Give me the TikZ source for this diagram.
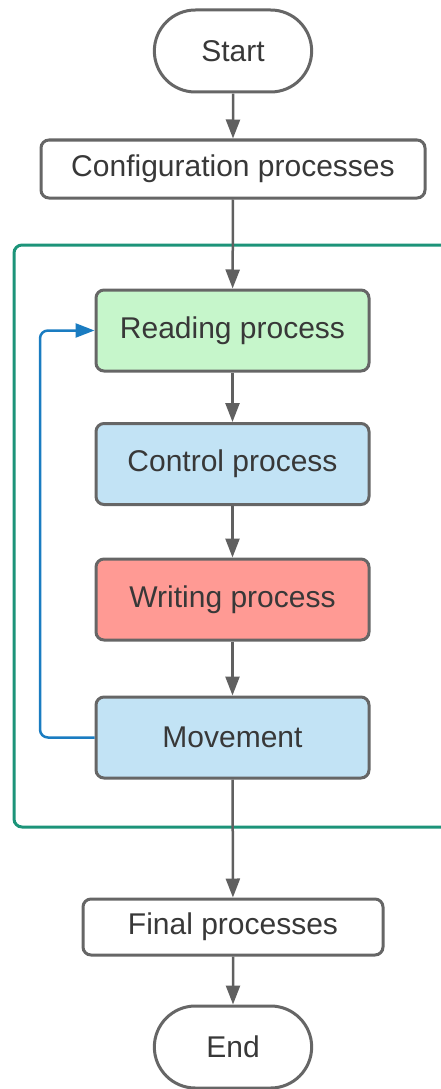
\documentclass[tikz,border=0pt]{standalone}
\usepackage{fontspec}
\setmainfont{Liberation Sans}
\usetikzlibrary{arrows.meta,shapes.misc}
\definecolor{edgegray}{HTML}{606060}
\definecolor{boxgray}{HTML}{666666}
\definecolor{txt}{HTML}{383838}
\definecolor{readfill}{HTML}{C6F6CB}
\definecolor{ctrlfill}{HTML}{C2E3F5}
\definecolor{writefill}{HTML}{FF9A94}
\definecolor{frameteal}{HTML}{1C9479}
\definecolor{loopblue}{HTML}{1A7CC1}
\tikzset{
  every node/.style={font=\fontsize{30}{36}\selectfont, text=txt},
  procbox/.style={draw=boxgray, line width=3pt, rounded corners=8pt, minimum height=58pt, fill=white},
  stepbox/.style={draw=boxgray, line width=3pt, rounded corners=8pt, minimum width=273pt, minimum height=81pt},
  terminal/.style={draw=boxgray, line width=3pt, rounded rectangle, minimum width=164pt, minimum height=82pt, fill=white},
  flow/.style={draw=edgegray, line width=2.5pt, -{Triangle[length=19pt,width=14pt]}},
}
\begin{document}
\begin{tikzpicture}[x=1pt,y=-1pt]
\useasboundingbox (0,0) rectangle (441,1089);
% enclosing frame of the main loop
\draw[frameteal, line width=3pt, rounded corners=8pt] (14,245) rectangle (470,827);
\node[terminal] (start) at (233,51) {Start};
\node[procbox, minimum width=384pt] (config) at (233,169) {Configuration processes};
\node[stepbox, fill=readfill] (read) at (232.5,330.5) {Reading process};
\node[stepbox, fill=ctrlfill] (ctrl) at (232.5,464) {Control process};
\node[stepbox, fill=writefill] (write) at (232.5,599.5) {Writing process};
\node[stepbox, fill=ctrlfill] (move) at (232.5,737.5) {Movement};
\node[procbox, minimum width=300pt, minimum height=56pt] (final) at (233,927) {Final processes};
\node[terminal] (end) at (233,1047) {End};
\coordinate (loopbot) at (40,737.5);
\coordinate (looptop) at (40,330.5);
\draw[flow] (start) -- (config);
\draw[flow] (config) -- (read);
\draw[flow] (read) -- (ctrl);
\draw[flow] (ctrl) -- (write);
\draw[flow] (write) -- (move);
\draw[flow] (move) -- (final);
\draw[flow] (final) -- (end);
\draw[loopblue, line width=2.5pt, rounded corners=8pt, -{Triangle[length=19pt,width=14pt]}]
  (move.west) -- (loopbot) -- (looptop) -- (read.west);
\end{tikzpicture}
\end{document}
